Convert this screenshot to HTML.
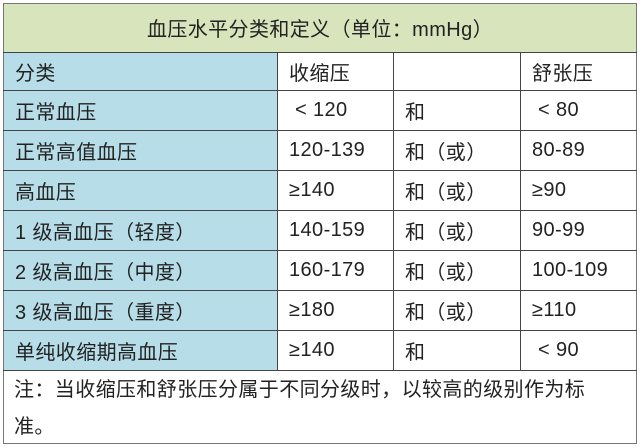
<!DOCTYPE html>
<html><head><meta charset="utf-8"><style>
body{margin:0;width:643px;height:448px;background:#fff;position:relative;font-family:"Liberation Sans","Noto Sans CJK SC",sans-serif;color:#222;font-size:20px;letter-spacing:0.4px;overflow:hidden}
.c{position:absolute;box-sizing:border-box;display:flex;align-items:center;padding-left:12px;white-space:nowrap}
.h{position:absolute;background:#444;height:1px}
.v{position:absolute;background:#444;width:1px}
</style></head><body>
<div style="position:absolute;left:3px;top:3px;width:634px;height:49px;background:#d8e4bc"></div>
<div style="position:absolute;left:3px;top:52px;width:274px;height:318px;background:#b7dde8"></div>
<div class="c" style="left:3px;top:3px;width:634px;height:49px;justify-content:center;padding:0">血压水平分类和定义（单位：mmHg）</div>
<div class="h" style="left:3px;top:3px;width:634px;background:#777"></div>
<div class="h" style="left:3px;top:443px;width:634px;background:#777"></div>
<div class="v" style="left:3px;top:3px;height:441px;background:#777"></div>
<div class="v" style="left:636px;top:3px;height:441px;background:#777"></div>
<div class="h" style="left:3px;top:52px;width:634px"></div>
<div class="h" style="left:3px;top:90px;width:634px"></div>
<div class="h" style="left:3px;top:130px;width:634px"></div>
<div class="h" style="left:3px;top:170px;width:634px"></div>
<div class="h" style="left:3px;top:210px;width:634px"></div>
<div class="h" style="left:3px;top:250px;width:634px"></div>
<div class="h" style="left:3px;top:290px;width:634px"></div>
<div class="h" style="left:3px;top:330px;width:634px"></div>
<div class="h" style="left:3px;top:370px;width:634px"></div>
<div class="v" style="left:277px;top:52px;height:318px"></div>
<div class="v" style="left:393px;top:52px;height:318px"></div>
<div class="v" style="left:520px;top:52px;height:318px"></div>

<div class="c" style="left:3px;top:52px;height:38px">分类</div>
<div class="c" style="left:277px;top:52px;height:38px">收缩压</div>
<div class="c" style="left:520px;top:52px;height:38px">舒张压</div>

<div class="c" style="left:3px;top:90px;height:40px">正常血压</div>
<div class="c" style="left:277px;top:90px;height:40px">&nbsp;&lt; 120</div>
<div class="c" style="left:393px;top:90px;height:40px">和</div>
<div class="c" style="left:520px;top:90px;height:40px">&nbsp;&lt; 80</div>

<div class="c" style="left:3px;top:130px;height:40px">正常高值血压</div>
<div class="c" style="left:277px;top:130px;height:40px">120-139</div>
<div class="c" style="left:393px;top:130px;height:40px">和（或）</div>
<div class="c" style="left:520px;top:130px;height:40px">80-89</div>

<div class="c" style="left:3px;top:170px;height:40px">高血压</div>
<div class="c" style="left:277px;top:170px;height:40px">≥140</div>
<div class="c" style="left:393px;top:170px;height:40px">和（或）</div>
<div class="c" style="left:520px;top:170px;height:40px">≥90</div>

<div class="c" style="left:3px;top:210px;height:40px">1 级高血压（轻度）</div>
<div class="c" style="left:277px;top:210px;height:40px">140-159</div>
<div class="c" style="left:393px;top:210px;height:40px">和（或）</div>
<div class="c" style="left:520px;top:210px;height:40px">90-99</div>

<div class="c" style="left:3px;top:250px;height:40px">2 级高血压（中度）</div>
<div class="c" style="left:277px;top:250px;height:40px">160-179</div>
<div class="c" style="left:393px;top:250px;height:40px">和（或）</div>
<div class="c" style="left:520px;top:250px;height:40px">100-109</div>

<div class="c" style="left:3px;top:290px;height:40px">3 级高血压（重度）</div>
<div class="c" style="left:277px;top:290px;height:40px">≥180</div>
<div class="c" style="left:393px;top:290px;height:40px">和（或）</div>
<div class="c" style="left:520px;top:290px;height:40px">≥110</div>

<div class="c" style="left:3px;top:330px;height:40px">单纯收缩期高血压</div>
<div class="c" style="left:277px;top:330px;height:40px">≥140</div>
<div class="c" style="left:393px;top:330px;height:40px">和</div>
<div class="c" style="left:520px;top:330px;height:40px">&nbsp;&lt; 90</div>

<div style="position:absolute;left:14px;top:372px;width:625px;line-height:37px;white-space:nowrap">注：当收缩压和舒张压分属于不同分级时，以较高的级别作为标<br>准。</div>
</body></html>
